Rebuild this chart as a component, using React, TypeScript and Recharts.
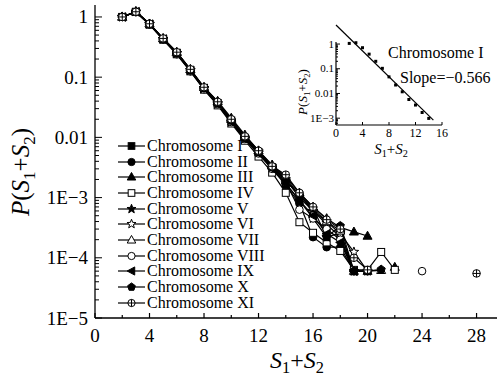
import React from "react";
import { ComposedChart, Line, XAxis, YAxis, Legend, ReferenceLine } from "recharts";

const serif = "'Liberation Serif', 'Times New Roman', serif";
const n = null;

// S1+S2 values on the x axis (2..28)
const sValues = [2, 3, 4, 5, 6, 7, 8, 9, 10, 11, 12, 13, 14, 15, 16, 17, 18, 19, 20, 21, 22, 23, 24, 25, 26, 27, 28];

const chrI = [1.0, 1.22, 0.76, 0.43, 0.25, 0.13, 0.066, 0.037, 0.019, 0.0098, 0.0057, 0.0032, 0.0019, 0.0011, 0.0006, 0.00036, 0.00022, 0.00006, n, n, n, n, n, n, n, n, n];
const chrII = [1.0, 1.2, 0.75, 0.42, 0.24, 0.125, 0.063, 0.035, 0.018, 0.0093, 0.0053, 0.003, 0.0016, 0.0008, 0.00022, 0.00015, 0.00015, 0.00006, 0.00006, n, n, n, n, n, n, n, n];
const chrIII = [1.0, 1.23, 0.77, 0.44, 0.26, 0.135, 0.068, 0.04, 0.021, 0.011, 0.006, 0.0035, 0.0022, 0.0012, 0.0007, 0.00045, 0.00032, 0.00027, 0.00023, n, 0.00007, n, n, n, n, n, n];
const chrIV = [1.0, 1.21, 0.75, 0.42, 0.24, 0.125, 0.062, 0.034, 0.017, 0.0088, 0.0048, 0.0026, 0.0012, 0.00039, 0.00026, 0.00018, 0.00013, 0.000063, 0.000063, 0.000125, 0.000063, n, n, n, n, n, n];
const chrV = [1.0, 1.22, 0.76, 0.43, 0.25, 0.13, 0.065, 0.036, 0.018, 0.0095, 0.0055, 0.0031, 0.0017, 0.0009, 0.00045, 0.00022, 0.00026, 0.00006, n, n, n, n, n, n, n, n, n];
const chrVI = [1.0, 1.22, 0.76, 0.43, 0.25, 0.13, 0.066, 0.037, 0.019, 0.0099, 0.0058, 0.0033, 0.002, 0.001, 0.0006, 0.0004, 0.00025, 0.000125, 0.00006, n, n, n, n, n, n, n, n];
const chrVII = [1.0, 1.22, 0.77, 0.44, 0.26, 0.135, 0.068, 0.039, 0.02, 0.0105, 0.006, 0.0034, 0.0021, 0.0011, 0.00065, 0.0004, 0.00028, 0.00006, 0.00006, 0.000062, n, n, n, n, n, n, n];
const chrVIII = [1.0, 1.21, 0.75, 0.43, 0.25, 0.13, 0.065, 0.036, 0.018, 0.0094, 0.0054, 0.003, 0.0018, 0.00063, 0.00045, 0.0003, 0.0002, 0.00006, 0.00006, n, n, n, 0.00006, n, n, n, n];
const chrIX = [1.0, 1.22, 0.76, 0.43, 0.25, 0.13, 0.065, 0.036, 0.018, 0.0094, 0.0054, 0.003, 0.0017, 0.0009, 0.0005, 0.00025, 0.00018, 0.00006, n, n, n, n, n, n, n, n, n];
const chrX = [1.0, 1.22, 0.76, 0.43, 0.25, 0.13, 0.066, 0.037, 0.019, 0.0098, 0.0057, 0.0032, 0.0019, 0.0011, 0.00067, 0.00022, 0.00034, 0.00006, 0.00006, 0.000064, n, n, n, n, n, n, n];
const chrXI = [1.0, 1.22, 0.77, 0.44, 0.26, 0.135, 0.068, 0.039, 0.02, 0.0104, 0.006, 0.0033, 0.0024, 0.0012, 0.0007, 0.00043, 0.0003, 0.0001, 0.000063, n, n, n, n, n, n, n, 0.000055];

// inset: chromosome I with its fitted line
const insetS = [2, 3, 4, 5, 6, 7, 8, 9, 10, 11, 12, 13, 14];
const insetP = [1.06, 1.13, 0.71, 0.39, 0.2, 0.104, 0.047, 0.022, 0.0117, 0.0057, 0.0034, 0.0017, 0.00098];
const fitS = [0, 14.7];
const fitP = [5.9, 0.00083];

const xMajor = [0, 4, 8, 12, 16, 20, 24, 28];
const xMinor = [2, 6, 10, 14, 18, 22, 26];
const yMajor = [1e-5, 1e-4, 1e-3, 0.01, 0.1, 1];
const yMajorLabels = ["1E\u22125", "1E\u22124", "1E\u22123", "0.01", "0.1", "1"];
const insetYMajor = [1e-3, 0.01, 0.1, 1];
const insetYLabels = ["1E\u22123", "0.01", "0.1", "1"];
const insetXTicks = [0, 4, 8, 12, 16];

type Kind = "square" | "circle" | "triangle" | "star" | "triLeft" | "pentagon" | "circlePlus";

const chromosomes: { key: string; name: string; values: (number | null)[]; kind: Kind; filled: boolean }[] = [
  { key: "c1", name: "Chromosome I", values: chrI, kind: "square", filled: true },
  { key: "c2", name: "Chromosome II", values: chrII, kind: "circle", filled: true },
  { key: "c3", name: "Chromosome III", values: chrIII, kind: "triangle", filled: true },
  { key: "c4", name: "Chromosome IV", values: chrIV, kind: "square", filled: false },
  { key: "c5", name: "Chromosome V", values: chrV, kind: "star", filled: true },
  { key: "c6", name: "Chromosome VI", values: chrVI, kind: "star", filled: false },
  { key: "c7", name: "Chromosome VII", values: chrVII, kind: "triangle", filled: false },
  { key: "c8", name: "Chromosome VIII", values: chrVIII, kind: "circle", filled: false },
  { key: "c9", name: "Chromosome IX", values: chrIX, kind: "triLeft", filled: true },
  { key: "c10", name: "Chromosome X", values: chrX, kind: "pentagon", filled: true },
  { key: "c11", name: "Chromosome XI", values: chrXI, kind: "circlePlus", filled: false },
];

const rows = sValues.map((s, i) => {
  const r: Record<string, number | null> = { s };
  chromosomes.forEach((c) => (r[c.key] = c.values[i]));
  return r;
});
const insetRows = insetS.map((s, i) => ({ s, p: insetP[i] }));
const fitRows = fitS.map((s, i) => ({ s, p: fitP[i] }));

function minorsBetween(lo: number, hi: number) {
  const out: number[] = [];
  for (let e = -6; e <= 1; e++) {
    for (let m = 1; m <= 9; m++) {
      const v = m * Math.pow(10, e);
      if (v >= lo && v <= hi) out.push(v);
    }
  }
  return out;
}
const yTicks = minorsBetween(1e-5, 1.58);
const insetYTicks = minorsBetween(5.3e-4, 1.2);

function poly(cx: number, cy: number, pts: [number, number][]) {
  return pts.map(([x, y]) => `${cx + x},${cy + y}`).join(" ");
}

function Marker({ kind, filled, cx, cy, s = 1 }: { kind: Kind; filled: boolean; cx: number; cy: number; s?: number }) {
  const fill = filled ? "#000" : "#fff";
  const common = { fill, stroke: "#000", strokeWidth: 1 };
  if (kind === "square") return <rect x={cx - 3.5 * s} y={cy - 3.5 * s} width={7 * s} height={7 * s} {...common} />;
  if (kind === "circle") return <circle cx={cx} cy={cy} r={3.8 * s} {...common} />;
  if (kind === "triangle")
    return <polygon points={poly(cx, cy, [[0, -4.8 * s], [-4.5 * s, 3.2 * s], [4.5 * s, 3.2 * s]])} {...common} />;
  if (kind === "triLeft")
    return <polygon points={poly(cx, cy, [[-4.6 * s, 0], [3.4 * s, -4.3 * s], [3.4 * s, 4.3 * s]])} {...common} />;
  if (kind === "star") {
    const pts: [number, number][] = [];
    for (let i = 0; i < 10; i++) {
      const r = (i % 2 === 0 ? 5 : 2.1) * s;
      const a = -Math.PI / 2 + (i * Math.PI) / 5;
      pts.push([r * Math.cos(a), r * Math.sin(a)]);
    }
    return <polygon points={poly(cx, cy, pts)} {...common} />;
  }
  if (kind === "pentagon") {
    const pts: [number, number][] = [];
    for (let i = 0; i < 5; i++) {
      const a = -Math.PI / 2 + (i * 2 * Math.PI) / 5;
      pts.push([4.3 * s * Math.cos(a), 4.3 * s * Math.sin(a)]);
    }
    return <polygon points={poly(cx, cy, pts)} {...common} />;
  }
  const r = 3.8 * s;
  return (
    <g>
      <circle cx={cx} cy={cy} r={r} {...common} />
      <line x1={cx - r} x2={cx + r} y1={cy} y2={cy} stroke="#000" strokeWidth={1} />
      <line x1={cx} x2={cx} y1={cy - r} y2={cy + r} stroke="#000" strokeWidth={1} />
    </g>
  );
}

// ticks are drawn inward by hand, labels outside
function MainXTick({ x, y, payload }: any) {
  const v = payload.value;
  const major = xMajor.includes(v);
  return (
    <g>
      <line x1={x} x2={x} y1={y} y2={y - (major ? 5 : 3)} stroke="#000" strokeWidth={1.2} />
      {major && (
        <text x={x} y={y + 24} textAnchor="middle" fontFamily={serif} fontSize={19} fill="#000">
          {v}
        </text>
      )}
    </g>
  );
}

function MainYTick({ x, y, payload }: any) {
  const idx = yMajor.indexOf(payload.value);
  const major = idx >= 0;
  return (
    <g>
      <line x1={x} x2={x + (major ? 7 : 4)} y1={y} y2={y} stroke="#000" strokeWidth={1} />
      {major && (
        <text x={x - 7} y={y + 6.5} textAnchor="end" fontFamily={serif} fontSize={19} fill="#000">
          {yMajorLabels[idx]}
        </text>
      )}
    </g>
  );
}

function InsetXTick({ x, y, payload }: any) {
  return (
    <g>
      <line x1={x} x2={x} y1={y} y2={y - 3} stroke="#000" strokeWidth={1} />
      <text x={x} y={y + 12} textAnchor="middle" fontFamily={serif} fontSize={12} fill="#000">
        {payload.value}
      </text>
    </g>
  );
}

function InsetYTick({ x, y, payload }: any) {
  const idx = insetYMajor.indexOf(payload.value);
  const major = idx >= 0;
  return (
    <g>
      <line x1={x} x2={x + (major ? 4 : 2)} y1={y} y2={y} stroke="#000" strokeWidth={1} />
      {major && (
        <text x={x - 2} y={y + 3.5} textAnchor="end" fontFamily={serif} fontSize={11} fill="#000">
          {insetYLabels[idx]}
        </text>
      )}
    </g>
  );
}

const renderLegend = () => (
  <div style={{ fontFamily: serif, fontSize: 16, color: "#000" }}>
    {chromosomes.map((c) => (
      <div key={c.key} style={{ display: "flex", alignItems: "center", height: 15.7, whiteSpace: "nowrap" }}>
        <svg width={30} height={14} style={{ display: "block" }}>
          <line x1={1} x2={28} y1={7} y2={7} stroke="#000" strokeWidth={1.2} />
          <Marker kind={c.kind} filled={c.filled} cx={14.5} cy={7} s={0.95} />
        </svg>
        <span>{c.name}</span>
      </div>
    ))}
  </div>
);

function sumSpans(size: number) {
  const sub = size * 0.68;
  const d = size * 0.22;
  return [
    <tspan key="s1" fontStyle="italic">S</tspan>,
    <tspan key="n1" fontSize={sub} dy={d}>1</tspan>,
    <tspan key="p" dy={-d}>+</tspan>,
    <tspan key="s2" fontStyle="italic">S</tspan>,
    <tspan key="n2" fontSize={sub} dy={d}>2</tspan>,
  ];
}

function PLabel({ size }: { size: number }) {
  return (
    <>
      <tspan fontStyle="italic">P</tspan>
      <tspan>(</tspan>
      {sumSpans(size)}
      <tspan dy={-size * 0.22}>)</tspan>
    </>
  );
}

export default function App() {
  return (
    <div style={{ position: "absolute", left: 0, top: 0, width: 502, height: 378, background: "#fff" }}>
      <div style={{ position: "absolute", left: 0, top: 0 }}>
        <ComposedChart width={502} height={378} data={rows} margin={{ top: 5, right: 5, left: 35, bottom: 30 }}>
          <XAxis
            dataKey="s"
            type="number"
            domain={[0, 29.5]}
            allowDataOverflow
            ticks={[...xMajor, ...xMinor].sort((a, b) => a - b)}
            interval={0}
            height={30}
            tickSize={0}
            tickMargin={0}
            tickLine={false}
            tick={<MainXTick />}
            axisLine={{ stroke: "#000", strokeWidth: 1.3 }}
          />
          <YAxis
            type="number"
            scale="log"
            domain={[1e-5, 1.58]}
            allowDataOverflow
            ticks={yTicks}
            interval={0}
            width={60}
            tickSize={0}
            tickMargin={0}
            tickLine={false}
            tick={<MainYTick />}
            axisLine={{ stroke: "#000", strokeWidth: 1.3 }}
          />
          <Legend
            layout="vertical"
            align="center"
            verticalAlign="middle"
            content={renderLegend}
            wrapperStyle={{ position: "absolute", left: 117, top: 138, width: 170 }}
          />
          {chromosomes.map((c) => (
            <Line
              key={c.key}
              dataKey={c.key}
              name={c.name}
              stroke="#000"
              strokeWidth={1.2}
              isAnimationActive={false}
              legendType="none"
              dot={(p: any) =>
                p.cx == null || p.cy == null || p.value == null ? (
                  <g key={`${c.key}-${p.index}`} />
                ) : (
                  <g key={`${c.key}-${p.index}`}>
                    <Marker kind={c.kind} filled={c.filled} cx={p.cx} cy={p.cy} />
                  </g>
                )
              }
              activeDot={false}
            />
          ))}
        </ComposedChart>
      </div>

      <div style={{ position: "absolute", left: 0, top: 0 }}>
        <ComposedChart width={502} height={160} margin={{ top: 23, right: 60, left: 306, bottom: 15 }}>
          <XAxis
            dataKey="s"
            type="number"
            domain={[0, 16]}
            ticks={insetXTicks}
            interval={0}
            height={20}
            tickSize={0}
            tickMargin={0}
            tickLine={false}
            tick={<InsetXTick />}
            axisLine={{ stroke: "#000", strokeWidth: 1.2 }}
          />
          <YAxis
            type="number"
            scale="log"
            domain={[5.3e-4, 7.1]}
            allowDataOverflow
            ticks={insetYTicks}
            interval={0}
            width={30}
            tickSize={0}
            tickMargin={0}
            tickLine={false}
            tick={<InsetYTick />}
            axisLine={false}
          />
          <ReferenceLine
            segment={[
              { x: 0, y: 5.3e-4 },
              { x: 0, y: 1.2 },
            ]}
            stroke="#000"
            strokeWidth={1.2}
          />
          <Line data={fitRows} dataKey="p" stroke="#000" strokeWidth={1.2} dot={false} isAnimationActive={false} activeDot={false} />
          <Line
            data={insetRows}
            dataKey="p"
            stroke="none"
            isAnimationActive={false}
            activeDot={false}
            dot={(p: any) => <rect key={`in-${p.index}`} x={p.cx - 1.5} y={p.cy - 1.5} width={3} height={3} fill="#000" />}
          />
        </ComposedChart>
      </div>

      <svg width={502} height={378} style={{ position: "absolute", left: 0, top: 0, pointerEvents: "none" }}>
        <text transform="translate(29,172) rotate(-90)" textAnchor="middle" fontFamily={serif} fontSize={25} fill="#000">
          <PLabel size={25} />
        </text>
        <text x={297} y={368} textAnchor="middle" fontFamily={serif} fontSize={24} fill="#000">
          {sumSpans(24)}
        </text>

        <text x={388} y={58} fontFamily={serif} fontSize={16} fill="#000">
          Chromosome I
        </text>
        <text x={400} y={83} fontFamily={serif} fontSize={16} fill="#000">
          Slope={"\u2212"}0.566
        </text>
        <text transform="translate(307,92) rotate(-90)" textAnchor="middle" fontFamily={serif} fontSize={13} fill="#000">
          <PLabel size={13} />
        </text>
        <text x={391} y={154} textAnchor="middle" fontFamily={serif} fontSize={15} fill="#000">
          {sumSpans(15)}
        </text>
      </svg>
    </div>
  );
}
